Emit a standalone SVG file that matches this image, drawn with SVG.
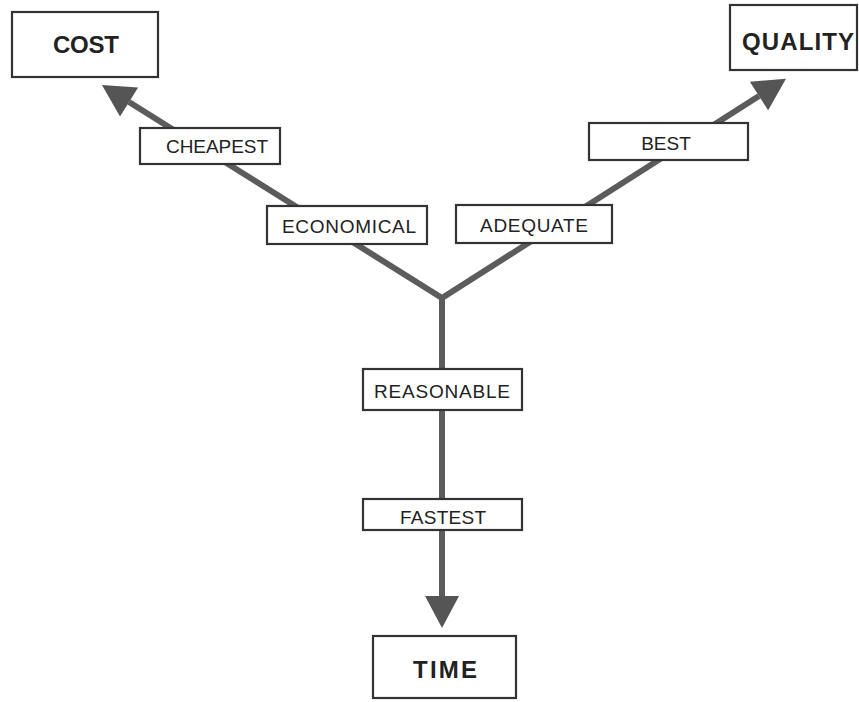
<svg xmlns="http://www.w3.org/2000/svg" width="859" height="702" viewBox="0 0 859 702">
<style>
.box{fill:#fff;stroke:#333;stroke-width:2.2}
.lbl{font-family:"Liberation Sans",Arial,sans-serif;font-size:19px;fill:#222;text-anchor:middle}
.big{font-family:"Liberation Sans",Arial,sans-serif;font-size:24px;font-weight:bold;fill:#222;text-anchor:middle}
.conn{stroke:#5c5c5c;stroke-width:6;fill:none}
</style>
<defs>
<marker id="ah" markerUnits="userSpaceOnUse" markerWidth="34" markerHeight="34" refX="0" refY="16.5" orient="auto" viewBox="0 0 32 33">
<path d="M0,0 L31,16.5 L0,33 z" fill="#555"/>
</marker>
</defs>
<rect width="859" height="702" fill="#fff"/>
<g id="connectors">
<path class="conn" d="M442,298 L129,102" marker-end="url(#ah)"/>
<path class="conn" d="M442,298 L759,96" marker-end="url(#ah)"/>
<path class="conn" d="M442,295 L442,596" marker-end="url(#ah)"/>
</g>
<g id="cost"><rect class="box" x="12" y="12" width="146" height="65"/><text class="big" x="86" y="53" textLength="66">COST</text></g>
<g id="quality"><rect class="box" x="730" y="5" width="127" height="65"/><text class="big" x="798" y="50" textLength="112">QUALITY</text></g>
<g id="time"><rect class="box" x="373" y="636" width="143" height="62"/><text class="big" x="445" y="678" textLength="64">TIME</text></g>
<g id="cheapest"><rect class="box" x="140" y="128" width="140" height="36"/><text class="lbl" x="217" y="153" textLength="102">CHEAPEST</text></g>
<g id="economical"><rect class="box" x="267" y="206" width="160" height="38"/><text class="lbl" x="349" y="233" textLength="134">ECONOMICAL</text></g>
<g id="adequate"><rect class="box" x="456" y="205" width="156" height="38"/><text class="lbl" x="534" y="232" textLength="108">ADEQUATE</text></g>
<g id="best"><rect class="box" x="589" y="123" width="159" height="37"/><text class="lbl" x="666" y="150">BEST</text></g>
<g id="reasonable"><rect class="box" x="363" y="369" width="159" height="41"/><text class="lbl" x="442" y="398" textLength="136">REASONABLE</text></g>
<g id="fastest"><rect class="box" x="363" y="499" width="159" height="31"/><text class="lbl" x="443" y="524" textLength="86">FASTEST</text></g>
</svg>
